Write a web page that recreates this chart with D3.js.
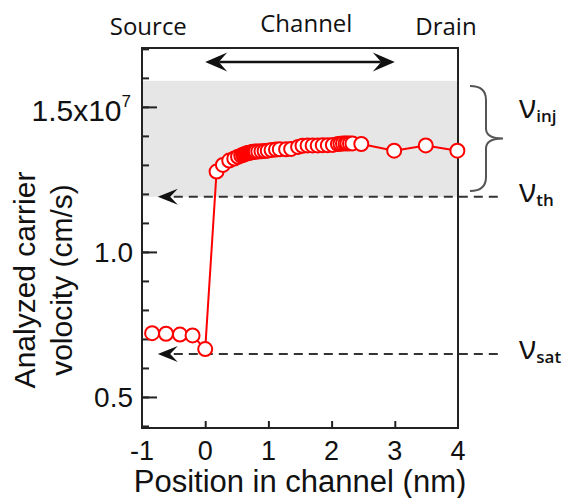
<!DOCTYPE html>
<html>
<head>
<meta charset="utf-8">
<script src="https://cdn.jsdelivr.net/npm/d3@7"></script>
<style>
  body { margin: 0; background: #fff; }
  svg { display: block; }
  .ax { font-family: "Liberation Sans", Arial, sans-serif; fill: #111; }
  .cal { font-family: "Open Sans", "Noto Sans", sans-serif; fill: #111; }
</style>
</head>
<body>
<svg id="chart" width="563" height="498"></svg>
<script>
// position in channel (nm)
var posNm = [-0.84, -0.62, -0.40, -0.20, 0.00, 0.18, 0.28, 0.38, 0.46, 0.52, 0.57, 0.60,
  0.62, 0.64, 0.66, 0.68, 0.70, 0.72, 0.74, 0.76, 0.78, 0.80, 0.84, 0.89, 0.94, 0.99,
  1.05, 1.12, 1.18, 1.28, 1.36, 1.47, 1.54, 1.62, 1.70, 1.78, 1.86, 1.94, 2.02, 2.10,
  2.14, 2.18, 2.22, 2.25, 2.29, 2.33, 2.47, 2.99, 3.49, 3.99];
// carrier velocity (x1e7 cm/s)
var velocity = [0.720, 0.718, 0.715, 0.712, 0.665, 1.277, 1.300, 1.315, 1.322, 1.328, 1.332, 1.335,
  1.337, 1.338, 1.340, 1.341, 1.342, 1.343, 1.344, 1.345, 1.345, 1.346, 1.346, 1.347, 1.348, 1.349,
  1.351, 1.353, 1.354, 1.354, 1.355, 1.362, 1.366, 1.367, 1.367, 1.367, 1.368, 1.368, 1.369, 1.372,
  1.373, 1.374, 1.374, 1.374, 1.374, 1.374, 1.372, 1.349, 1.367, 1.349];

var vInjTop = 1.59, vTh = 1.19, vSat = 0.648;
var xTickVals = [-1, 0, 1, 2, 3, 4];
var yMajor = [0.5, 1.0, 1.5];
var yMajorLabels = ["0.5", "1.0", "1.5x10"];
var topLabels = ["Source", "Channel", "Drain"];

var margin = { top: 48, right: 105, bottom: 70, left: 142 },
  W = 563, H = 498;

var svg = d3.select("#chart");

var x = d3.scaleLinear().domain([-1, 4]).range([margin.left, W - margin.right]);
var y = d3.scaleLinear().domain([0.393, 1.703]).range([H - margin.bottom, margin.top]);

// injection band
svg.append("rect")
  .attr("x", x(-1)).attr("y", y(vInjTop))
  .attr("width", x(4) - x(-1)).attr("height", y(vTh) - y(vInjTop))
  .attr("fill", "#e6e6e6");

// arrowhead path, tip at (0,0) pointing left
function head(len, h) {
  return "M0,0 L" + len + "," + (-h / 2) + " L" + (len * 0.62) + ",0 L" + len + "," + (h / 2) + "Z";
}

// dashed reference lines
[vTh, vSat].forEach(function (v) {
  var x0 = x(-0.75), x1 = x(4.71);
  svg.append("line")
    .attr("x1", x0 + 16).attr("x2", x1)
    .attr("y1", y(v)).attr("y2", y(v))
    .attr("stroke", "#333").attr("stroke-width", 2)
    .attr("stroke-dasharray", "9,6");
  svg.append("path")
    .attr("d", head(20, 16))
    .attr("transform", "translate(" + x0 + "," + y(v) + ")")
    .attr("fill", "#111");
});

// ticks
var tickStyle = function (g) {
  g.select(".domain").remove();
  g.selectAll(".tick line").attr("stroke", "#222").attr("stroke-width", 2);
};
svg.append("g")
  .attr("transform", "translate(" + x(-1) + ",0)")
  .call(d3.axisLeft(y).tickValues(d3.range(4, 18).map(function (d) { return d / 10; })).tickSize(-7).tickFormat(""))
  .call(tickStyle);
svg.append("g")
  .attr("transform", "translate(" + x(-1) + ",0)")
  .call(d3.axisLeft(y).tickValues(yMajor).tickSize(-15).tickFormat(""))
  .call(tickStyle);
svg.append("g")
  .attr("transform", "translate(0," + y.range()[0] + ")")
  .call(d3.axisBottom(x).tickValues([0, 1, 2, 3]).tickSize(-7).tickFormat(""))
  .call(tickStyle);

// frame
svg.append("rect")
  .attr("x", x(-1)).attr("y", y.range()[1])
  .attr("width", x(4) - x(-1)).attr("height", y.range()[0] - y.range()[1])
  .attr("fill", "none").attr("stroke", "#222").attr("stroke-width", 2);

// data
var pts = posNm.map(function (d, i) { return [d, velocity[i]]; });
svg.append("path")
  .datum(pts)
  .attr("d", d3.line().x(function (d) { return x(d[0]); }).y(function (d) { return y(d[1]); }))
  .attr("fill", "none").attr("stroke", "#ff0000").attr("stroke-width", 2);
svg.selectAll(".pt").data(pts).enter().append("circle")
  .attr("class", "pt")
  .attr("cx", function (d) { return x(d[0]); })
  .attr("cy", function (d) { return y(d[1]); })
  .attr("r", 7)
  .attr("fill", "#fff").attr("stroke", "#ff0000").attr("stroke-width", 2);

// y tick labels
var yl = svg.selectAll(".ylab").data(yMajor).enter().append("text")
  .attr("class", "ax ylab")
  .attr("x", x(-1) - 9)
  .attr("y", function (d) { return y(d) + 10; })
  .attr("text-anchor", "end")
  .attr("font-size", function (d) { return d === 1.5 ? 30 : 28; })
  .text(function (d, i) { return yMajorLabels[i]; });
yl.filter(function (d) { return d === 1.5; })
  .attr("x", x(-1) - 11).attr("y", y(1.5) + 14)
  .append("tspan").attr("dy", -14).attr("font-size", 17).text("7");

// x tick labels
svg.selectAll(".xlab").data(xTickVals).enter().append("text")
  .attr("class", "ax xlab")
  .attr("x", function (d) { return x(d); })
  .attr("y", y.range()[0] + 32)
  .attr("text-anchor", "middle")
  .attr("font-size", 27)
  .text(function (d) { return d; });

// axis titles
svg.append("text").attr("class", "ax")
  .attr("x", 300).attr("y", 492)
  .attr("text-anchor", "middle").attr("font-size", 31)
  .text("Position in channel (nm)");
var yt = svg.append("text").attr("class", "ax")
  .attr("transform", "translate(35,280) rotate(-90)")
  .attr("text-anchor", "middle").attr("font-size", 30);
yt.append("tspan").attr("x", 0).attr("y", 0).text("Analyzed carrier");
yt.append("tspan").attr("x", 0).attr("y", 37).text("volocity (cm/s)");

// top labels
var topX = [x(-0.9), x(1.6), x(3.81)], topY = [35, 32, 35];
svg.selectAll(".toplab").data(topLabels).enter().append("text")
  .attr("class", "cal toplab")
  .attr("x", function (d, i) { return topX[i]; })
  .attr("y", function (d, i) { return topY[i]; })
  .attr("text-anchor", "middle")
  .attr("font-size", 24)
  .text(function (d) { return d; });

// channel double arrow
var ay = 62, ax0 = x(0), ax1 = x(3);
svg.append("line")
  .attr("x1", ax0 + 14).attr("x2", ax1 - 14).attr("y1", ay).attr("y2", ay)
  .attr("stroke", "#111").attr("stroke-width", 2.5);
svg.append("path").attr("d", head(22, 19))
  .attr("transform", "translate(" + ax0 + "," + ay + ")").attr("fill", "#111");
svg.append("path").attr("d", head(22, 19))
  .attr("transform", "translate(" + ax1 + "," + ay + ") scale(-1,1)").attr("fill", "#111");

// brace for injection range
var bx = x(4) + 12, bTop = y(1.572), bBot = y(1.21), bMid = (bTop + bBot) / 2, bw = 16, bt = x(4) + 45;
svg.append("path")
  .attr("d", "M" + bx + "," + bTop +
    " Q" + (bx + bw) + "," + bTop + " " + (bx + bw) + "," + (bTop + 14) +
    " L" + (bx + bw) + "," + (bMid - 10) +
    " Q" + (bx + bw) + "," + bMid + " " + bt + "," + bMid +
    " Q" + (bx + bw) + "," + bMid + " " + (bx + bw) + "," + (bMid + 10) +
    " L" + (bx + bw) + "," + (bBot - 14) +
    " Q" + (bx + bw) + "," + bBot + " " + bx + "," + bBot)
  .attr("fill", "none").attr("stroke", "#555").attr("stroke-width", 2);

// nu labels
var nuLabs = [{ sub: "inj", v: 1.48 }, { sub: "th", v: vTh }, { sub: "sat", v: vSat }];
nuLabs.forEach(function (d) {
  var t = svg.append("text").attr("class", "cal")
    .attr("x", 519).attr("y", y(d.v) + 5).attr("font-size", 32);
  t.append("tspan").text("\u03bd");
  t.append("tspan").attr("dy", 4).attr("font-size", 17).attr("font-weight", 600).text(d.sub);
});
</script>
</body>
</html>
